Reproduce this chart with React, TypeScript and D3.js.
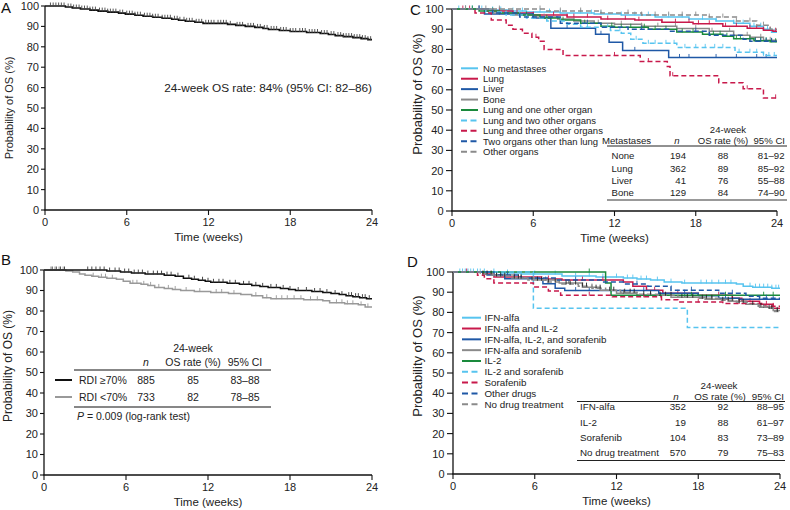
import React from 'react';
import * as d3 from 'd3';

type Pt = [number, number];

const FONT = "'Liberation Sans', Arial, Helvetica, sans-serif";

const timeTicks = [0, 6, 12, 18, 24];
const probTicks = [0, 10, 20, 30, 40, 50, 60, 70, 80, 90, 100];

// ---------- Panel A ----------
const overallSteps: Pt[] = [[0,100],[1.5,99.5],[2,99],[2.6,98.5],[3.3,98],[3.9,97.5],[4.6,97],[5.4,96.5],[5.9,96],[6.6,95.5],[7.2,95],[7.9,94.5],[8.6,94],[9.3,93.5],[9.8,93],[10.3,92.5],[11,92],[11.6,91.5],[13.4,91],[14,90.5],[14.7,90],[15.4,89.5],[16,89],[16.4,88.5],[17.2,88],[18,87.5],[19.2,87],[20.2,86.5],[20.8,86],[21.3,85.5],[21.9,85],[22.6,84.5],[23.2,84],[23.7,83.5]];
const overallCensor = [0.4,0.6,0.8,1.0,1.2,1.4,1.7,1.9,2.1,2.3,2.5,2.7,2.9,3.1,3.3,3.5,3.7,4.0,4.2,4.4,4.6,4.8,5.0,5.2,5.5,5.7,6.0,6.2,6.4,6.6,6.8,7.0,7.3,7.5,7.7,7.9,8.1,8.3,8.6,8.8,9.0,9.2,9.5,9.7,9.9,10.2,10.4,10.6,10.8,11.1,11.3,11.5,11.8,12.0,12.2,12.4,12.7,12.9,13.1,13.3,13.6,14.1,14.3,14.5,14.9,15.1,15.3,15.6,15.8,16.1,16.3,16.6,16.8,17.0,17.3,17.5,17.7,18.0,18.2,18.4,18.7,18.9,19.1,19.4,19.6,19.8,20.0,20.3,20.5,20.7,21.0,21.2,21.5,21.7,21.9,22.1,22.3,22.5,22.7,22.9,23.1,23.3,23.5,23.7,23.9];
const overallNote = '24-week OS rate: 84% (95% CI: 82–86)';

// ---------- Panel B ----------
const rdiHighSteps: Pt[] = [[0,100],[4.6,99.5],[5.6,99],[6.4,98.5],[7.4,98],[8.8,97.5],[9.6,97],[10.2,96],[10.8,95.5],[11.3,95],[11.8,94.5],[12.2,94],[13.4,93.5],[14.3,93],[15.2,92.5],[15.8,92],[16.4,91.5],[17.3,91],[17.9,90.5],[18.4,90],[19.6,89.5],[20.4,89],[21.0,88.5],[21.6,88],[22.1,87.5],[22.6,87],[23.1,86.5],[23.6,86]];
const rdiHighCensor = [0.6,0.9,1.2,1.5,3.2,3.5,3.8,4.1,4.4,4.8,5.2,5.5,5.9,6.2,6.6,6.9,7.2,7.6,8.0,8.3,8.6,9.0,9.3,9.8,10.6,11.0,11.6,12.0,12.4,12.8,13.1,13.6,14.0,14.6,15.0,15.5,16.0,16.6,17.0,17.5,18.0,18.6,19.2,19.8,20.2,20.7,21.3,21.8,22.3,22.5,22.8,23.0,23.3,23.5,23.8];
const rdiLowSteps: Pt[] = [[0,100],[1.6,99.5],[2.1,99],[2.6,98],[3.0,97.5],[3.5,97],[4.0,96.5],[4.6,96],[5.3,95.5],[5.8,94.5],[6.3,93.5],[7.1,93],[7.6,92.5],[8.1,91.5],[8.8,91],[9.4,90.5],[10.0,90],[11.0,89.5],[12.2,89],[13.5,88.5],[14.4,88],[15.2,87.5],[16.0,86.5],[16.6,86],[19.0,85.5],[20.4,85],[20.9,84],[22.0,83.5],[23.0,83],[23.5,82]];
const rdiLowCensor = [0.5,0.8,1.1,1.4,3.6,4.2,4.5,5.0,6.5,6.8,7.3,7.8,8.4,9.1,9.6,10.4,11.4,12.6,13.0,13.9,15.5,16.3,17.0,17.4,17.8,18.3,18.8,19.5,20.0,21.4,21.8,22.2,22.6,23.2,23.7];
const rdiLabels = ['RDI ≥70%', 'RDI <70%'];
const rdiN = [885, 733];
const rdiRate = [85, 82];
const rdiCI = ['83–88', '78–85'];
const rdiPValue = '0.009';

// ---------- Panel C ----------
const metNames = ['No metastases','Lung','Liver','Bone','Lung and one other organ','Lung and two other organs','Lung and three other organs','Two organs other than lung','Other organs'];
const metSteps: Pt[][] = [
  [[0,100],[2.8,99.5],[4.2,99],[5.5,98.5],[8,98],[10.5,97.5],[12.5,97],[15,96],[17.5,95],[19.5,94],[20.8,93],[22,91.5],[23,90],[23.6,88.5]],
  [[0,100],[2.5,99],[4.5,98],[6,97],[8.5,96],[11,95],[13.5,94.5],[15.5,93.5],[17.8,92.7],[20,91.5],[21.8,90.5],[23,89.5],[23.7,89]],
  [[0,100],[2.4,97.5],[6.0,95.5],[7.3,90.5],[10.6,87.5],[11.6,83.5],[12.6,79.5],[16.0,76]],
  [[0,100],[3,98],[4.5,97],[6,96],[7.8,95],[9,94],[10.5,93],[12,92.5],[14,91.5],[16.6,90.3],[19,89],[20.8,87],[22,86],[23,84.5]],
  [[0,100],[2,99],[3.5,98],[5,97],[6.5,95.5],[8,94.5],[9.5,93],[11,91.5],[12,91],[14.5,90],[16.6,88.6],[18.5,87.5],[20,86.5],[20.8,85.3],[22.3,84.3],[23.5,83.8]],
  [[0,100],[2.5,98.5],[4,97],[5.5,95.5],[7,94],[8.5,92.5],[9.5,91],[11.7,89.4],[12.5,88],[13.2,85],[14.1,83],[16.6,81],[20.9,78.6],[23,77]],
  [[0,100],[1.7,98],[2.9,94.5],[4.0,92],[4.5,90],[5.2,88],[5.9,86],[6.4,84],[6.8,80],[8.2,77],[13.9,74],[15.9,71.5],[16.1,67],[19.7,63.5],[21.5,60.5],[23,56]],
  [[0,100],[3,98],[5,96],[8,93],[11,91],[13,90],[16,89],[19,87],[21.5,85],[22,84]],
  [[0,100],[7,99],[11,98],[14,97],[19,96],[21,94],[22.5,92],[23.5,90]],
];
const metCensor: number[][] = [
  [0.5,1.0,1.5,2.2,3.0,3.6,4.5,5.2,6.5,7.2,8.0,9.5,10.3,11.0,12.5,13.5,14.5,16.0,17.0,18.5,19.5,20.8,21.5,22.3,22.8,23.3,23.8],
  [0.8,1.3,2.0,3.5,4.8,6.0,7.5,8.5,9.0,10.0,11.5,12.8,13.8,15.5,16.5,17.5,18.2,19.0,20.2,21.0,22.0,22.5,23.0,23.5,23.9],
  [3.5,8.5,11.0,13.5,16.8,17.5,19.5,21.0,22.5,23.2],
  [1.0,2.5,4.0,6.8,9.0,10.8,12.5,14.0,15.2,16.5,18.0,19.2,20.5,21.8,22.8,23.5],
  [1.5,3.0,5.5,7.0,8.2,9.8,11.8,12.5,13.2,14.2,15.0,15.8,17.0,17.8,18.5,19.3,19.8,20.3,21.0,21.3,22.0,22.4,22.8,23.2,23.6,23.9],
  [2.0,5.0,8.0,10.0,11.5,12.4,13.6,14.5,15.0,15.8,16.4,17.2,18.0,18.7,19.4,20.0,21.2,22.0,22.5,23.0,23.4,23.8],
  [6.2,12.0,14.5,16.3,21.8,23.9],
  [2.0,6.0,10.0,14.0,18.0,22.4,22.8,23.2,23.6],
  [1.0,3.5,6.5,8.0,9.5,11.0,13.0,14.0,15.0,16.0,17.0,18.0,19.0,20.0,21.0,22.0,23.0],
];
const metTableNames = ['None', 'Lung', 'Liver', 'Bone'];
const metN = [194, 362, 41, 129];
const metRate = [88, 89, 76, 84];
const metCI = ['81–92', '85–92', '55–88', '74–90'];

// ---------- Panel D ----------
const drugNames = ['IFN-alfa','IFN-alfa and IL-2','IFN-alfa, IL-2, and sorafenib','IFN-alfa and sorafenib','IL-2','IL-2 and sorafenib','Sorafenib','Other drugs','No drug treatment'];
const drugSteps: Pt[][] = [
  [[0,100],[3.5,99.5],[5,99],[8,98],[10.5,97.5],[12.5,97],[13.5,96.5],[14.5,96],[15.5,95],[16.8,94.5],[20.8,94],[21.3,93],[22,92.5],[23.4,92]],
  [[0,100],[2.2,99],[3.0,97.5],[6.5,96.5],[8,96],[12.5,95],[13.2,93],[14.2,91],[15.4,89.5],[18,88.5],[20.5,87],[21.2,85.5],[22.5,84],[23.5,82]],
  [[0,100],[2.5,98.5],[3.8,96.7],[6.6,94.2],[7.5,92],[8.2,90.8],[15.1,89.5],[18,88.2],[19.5,87],[21,86.5]],
  [[0,100],[2.8,98.5],[4.5,97],[6.2,96],[7.8,94.5],[9.5,92.5],[10.8,91],[12,89.5],[13.5,88.5],[16,87.5],[18.5,86.5],[20.2,85.5],[21.5,84],[22.5,82.5],[23.5,81]],
  [[0,100],[11.2,94.5],[11.6,88.5]],
  [[0,100],[5.9,82],[17.2,72.5]],
  [[0,100],[1.8,98.4],[2.3,96.7],[3,94.6],[5.9,92.6],[7,90.6],[7.9,88.5],[11.7,87.7],[15.3,86.3],[16.5,85.2],[19.8,84.4],[22.9,83]],
  [[0,100],[3,98.5],[5,97],[7.5,96],[11,95],[12.5,94],[14.3,93],[16,91],[19.5,89.5],[21.5,88],[22.5,87]],
  [[0,100],[2,99],[3,98],[4.2,97],[5.5,96],[6.8,95],[8,94],[9.2,93],[10.2,92],[11.2,91],[12.3,90],[13.6,89],[15,88.5],[16.5,87.5],[18,87],[19.5,86],[20.8,85],[21.6,84],[22.4,83],[23,82],[23.6,80.5]],
];
const drugCensor: number[][] = [
  [0.5,0.7,0.9,1.1,1.3,1.5,1.8,2.0,2.3,3.0,4.0,6.0,7.5,9.0,10.0,11.0,12.0,12.8,13.2,13.8,14.2,15.0,16.0,17.0,18.2,18.6,19.0,19.5,20.0,20.4,21.8,22.2,22.5,22.8,23.1,23.4,23.7,23.9],
  [1.0,4.5,7.0,9.5,11.0,14.8,16.5,19.5,21.8,23.0],
  [9.0,10.0,14.0,17.0,20.0,22.5,23.5],
  [3.2,5.0,6.8,8.5,10.2,12.5,14.5,17.0,19.0,21.0,22.8,23.8],
  [10.0,17.5,20.0,22.8,23.5],
  [],
  [10.0,14.0,18.0,21.0,23.5],
  [4.0,9.0,13.5,17.5,20.5,23.0],
  [2.2,2.5,2.8,3.2,3.5,3.8,4.5,4.8,5.0,5.8,6.2,6.5,7.0,7.5,8.3,8.6,9.0,9.5,9.8,10.5,10.8,11.5,11.8,12.6,13.0,13.3,14.0,14.5,15.2,15.6,16.0,16.8,17.2,17.6,18.3,18.6,19.0,19.8,20.2,20.5,21.0,21.3,22.0,22.6,23.2,23.4,23.8],
];
const drugTableNames = ['IFN-alfa', 'IL-2', 'Sorafenib', 'No drug treatment'];
const drugN = [352, 19, 104, 570];
const drugRate = [92, 88, 83, 79];
const drugCI = ['88–95', '61–97', '73–89', '75–83'];

// ---------- styles ----------
const LBLUE = '#57c4ef';
const CRIMSON = '#c8194b';
const DBLUE = '#1f58a6';
const GRAY = '#8a8a8a';
const GREEN = '#1a8a3c';
const groupColors = [LBLUE, CRIMSON, DBLUE, GRAY, GREEN, LBLUE, CRIMSON, DBLUE, GRAY];
const groupDashed = [false, false, false, false, false, true, true, true, true];

type Scale = d3.ScaleLinear<number, number>;

function stepAt(steps: Pt[], t: number) {
  let v = steps[0][1];
  for (const [st, p] of steps) {
    if (st <= t) v = p; else break;
  }
  return v;
}

function KMCurve({ steps, censor, x, y, color, dashed, width, tickColor }: {
  steps: Pt[]; censor: number[]; x: Scale; y: Scale; color: string; dashed?: boolean; width: number; tickColor?: string;
}) {
  const end = x.domain()[1];
  const pts: Pt[] = [...steps, [end, steps[steps.length - 1][1]]];
  const line = d3.line<Pt>().x(d => x(d[0])).y(d => y(d[1])).curve(d3.curveStepAfter);
  return (
    <g>
      <path d={line(pts) ?? ''} fill="none" stroke={color} strokeWidth={width} strokeDasharray={dashed ? '5,3' : undefined} />
      {censor.map((t, i) => {
        const p = stepAt(steps, t);
        const cx = x(t);
        return <line key={i} x1={cx} x2={cx} y1={y(p) - 3.5} y2={y(p) + 0.5} stroke={tickColor ?? color} strokeWidth={0.9} />;
      })}
    </g>
  );
}

function Axes({ x, y, tickLen, labelGap, ylabSize, ylabX, ylabCy, letter, letterX, letterY }: {
  x: Scale; y: Scale; tickLen: number; labelGap: number; ylabSize: number; ylabX: number; ylabCy: number; letter: string; letterX: number; letterY: number;
}) {
  const [x0, x1] = x.range();
  const [yB, yT] = y.range();
  return (
    <g fontFamily={FONT} fill="#222">
      <line x1={x0} x2={x0} y1={yB} y2={yT} stroke="#111" strokeWidth={1.3} />
      <line x1={x0 - 0.6} x2={x1} y1={yB} y2={yB} stroke="#111" strokeWidth={1.3} />
      {probTicks.map(v => (
        <g key={v}>
          <line x1={x0 - tickLen} x2={x0} y1={y(v)} y2={y(v)} stroke="#111" strokeWidth={1.1} />
          <text x={x0 - labelGap} y={y(v)} dy="0.36em" textAnchor="end" fontSize={11}>{v}</text>
        </g>
      ))}
      {timeTicks.map(t => (
        <g key={t}>
          <line x1={x(t)} x2={x(t)} y1={yB} y2={yB + 5} stroke="#111" strokeWidth={1.1} />
          <text x={x(t)} y={yB + 16} textAnchor="middle" fontSize={11}>{t}</text>
        </g>
      ))}
      <text x={(x0 + x1) / 2} y={yB + 31} textAnchor="middle" fontSize={11.5}>Time (weeks)</text>
      <text transform={`translate(${ylabX},${ylabCy}) rotate(-90)`} textAnchor="middle" fontSize={ylabSize}>Probability of OS (%)</text>
      <text x={letterX} y={letterY} fontSize={15} fill="#111">{letter}</text>
    </g>
  );
}

function PanelA() {
  const x = d3.scaleLinear().domain([0, 24]).range([45, 372]);
  const y = d3.scaleLinear().domain([0, 100]).range([210, 6]);
  return (
    <g>
      <Axes x={x} y={y} tickLen={4} labelGap={6} ylabSize={11} ylabX={12.5} ylabCy={108} letter="A" letterX={1} letterY={13} />
      <KMCurve steps={overallSteps} censor={overallCensor} x={x} y={y} color="#111" width={1.6} tickColor="#444" />
      <text x={x(24)} y={y(60)} dy="0.35em" textAnchor="end" fontFamily={FONT} fontSize={11.8} fill="#222">{overallNote}</text>
    </g>
  );
}

function PanelB() {
  const x = d3.scaleLinear().domain([0, 24]).range([44, 372]);
  const y = d3.scaleLinear().domain([0, 100]).range([475, 270]);
  const rowY = [380, 397];
  const colors = ['#111', '#999'];
  return (
    <g>
      <Axes x={x} y={y} tickLen={4} labelGap={6} ylabSize={12} ylabX={11.5} ylabCy={366} letter="B" letterX={1} letterY={265} />
      <KMCurve steps={rdiLowSteps} censor={rdiLowCensor} x={x} y={y} color="#999" width={1.5} />
      <KMCurve steps={rdiHighSteps} censor={rdiHighCensor} x={x} y={y} color="#111" width={1.5} tickColor="#333" />
      <g fontFamily={FONT} fontSize={10.5} fill="#222">
        <text x={193} y={348} dy="0.35em" textAnchor="middle">24-week</text>
        <text x={146} y={362} dy="0.35em" textAnchor="middle" fontStyle="italic">n</text>
        <text x={193} y={362} dy="0.35em" textAnchor="middle">OS rate (%)</text>
        <text x={245} y={362} dy="0.35em" textAnchor="middle">95% CI</text>
        <line x1={74} x2={271} y1={370} y2={370} stroke="#111" strokeWidth={1.2} />
        {rdiLabels.map((lab, i) => (
          <g key={lab}>
            <line x1={55} x2={72} y1={rowY[i]} y2={rowY[i]} stroke={colors[i]} strokeWidth={2} />
            <text x={79} y={rowY[i]} dy="0.35em">{lab}</text>
            <text x={146} y={rowY[i]} dy="0.35em" textAnchor="middle">{rdiN[i]}</text>
            <text x={193} y={rowY[i]} dy="0.35em" textAnchor="middle">{rdiRate[i]}</text>
            <text x={245} y={rowY[i]} dy="0.35em" textAnchor="middle">{rdiCI[i]}</text>
          </g>
        ))}
        <line x1={74} x2={271} y1={407} y2={407} stroke="#111" strokeWidth={1.2} />
        <text x={77} y={416} dy="0.35em"><tspan fontStyle="italic">P</tspan> = {rdiPValue} (log-rank test)</text>
      </g>
    </g>
  );
}

function Legend({ names, x1, x2, tx, y0, step, fontSize }: { names: string[]; x1: number; x2: number; tx: number; y0: number; step: number; fontSize: number }) {
  return (
    <g fontFamily={FONT} fontSize={fontSize} fill="#222">
      {names.map((n, i) => {
        const yy = y0 + i * step;
        return (
          <g key={n}>
            <line x1={x1} x2={x2} y1={yy} y2={yy} stroke={groupColors[i]} strokeWidth={2} strokeDasharray={groupDashed[i] ? '6,3.5' : undefined} />
            <text x={tx} y={yy} dy="0.35em">{n}</text>
          </g>
        );
      })}
    </g>
  );
}

function PanelC() {
  const x = d3.scaleLinear().domain([0, 24]).range([452, 777]);
  const y = d3.scaleLinear().domain([0, 100]).range([211, 9]);
  const rows = [155.7, 168.3, 180.7, 192.7];
  return (
    <g>
      <Axes x={x} y={y} tickLen={6} labelGap={8.5} ylabSize={13} ylabX={422} ylabCy={94} letter="C" letterX={410} letterY={15} />
      {metSteps.map((s, i) => (
        <KMCurve key={i} steps={s} censor={metCensor[i]} x={x} y={y} color={groupColors[i]} dashed={groupDashed[i]} width={1.5} />
      ))}
      <Legend names={metNames} x1={461} x2={478} tx={483} y0={68.3} step={10.42} fontSize={9.5} />
      <g fontFamily={FONT} fontSize={9.6} fill="#222">
        <text x={728} y={130} dy="0.35em" textAnchor="middle">24-week</text>
        <text x={602} y={141} dy="0.35em">Metastases</text>
        <text x={677} y={141} dy="0.35em" textAnchor="middle" fontStyle="italic">n</text>
        <text x={723} y={141} dy="0.35em" textAnchor="middle">OS rate (%)</text>
        <text x={785} y={141} dy="0.35em" textAnchor="end">95% CI</text>
        <line x1={607} x2={787} y1={146} y2={146} stroke="#222" strokeWidth={1} />
        {metTableNames.map((n, i) => (
          <g key={n}>
            <text x={611.5} y={rows[i]} dy="0.35em">{n}</text>
            <text x={686} y={rows[i]} dy="0.35em" textAnchor="end">{metN[i]}</text>
            <text x={723} y={rows[i]} dy="0.35em" textAnchor="middle">{metRate[i]}</text>
            <text x={784.5} y={rows[i]} dy="0.35em" textAnchor="end">{metCI[i]}</text>
          </g>
        ))}
        <line x1={607} x2={787} y1={200} y2={200} stroke="#777" strokeWidth={1.6} />
      </g>
    </g>
  );
}

function PanelD() {
  const x = d3.scaleLinear().domain([0, 24]).range([453, 780]);
  const y = d3.scaleLinear().domain([0, 100]).range([474, 272]);
  const rows = [407, 422.5, 437.5, 452.5];
  const tickColors = [undefined, undefined, undefined, '#555', undefined, undefined, undefined, undefined, '#222'];
  return (
    <g>
      <Axes x={x} y={y} tickLen={6} labelGap={8.5} ylabSize={13} ylabX={422} ylabCy={356} letter="D" letterX={407} letterY={267} />
      {drugSteps.map((s, i) => (
        <KMCurve key={i} steps={s} censor={drugCensor[i]} x={x} y={y} color={groupColors[i]} dashed={groupDashed[i]} width={1.5} tickColor={tickColors[i]} />
      ))}
      <Legend names={drugNames} x1={462} x2={481} tx={484.5} y0={317.7} step={10.82} fontSize={9.8} />
      <g fontFamily={FONT} fontSize={9.8} fill="#222">
        <text x={719} y={386} dy="0.35em" textAnchor="middle">24-week</text>
        <text x={676} y={396.5} dy="0.35em" textAnchor="middle" fontStyle="italic">n</text>
        <text x={720} y={396.5} dy="0.35em" textAnchor="middle">OS rate (%)</text>
        <text x={784} y={396.5} dy="0.35em" textAnchor="end">95% CI</text>
        <line x1={577} x2={785} y1={401.5} y2={401.5} stroke="#222" strokeWidth={1} />
        {drugTableNames.map((n, i) => (
          <g key={n}>
            <text x={580} y={rows[i]} dy="0.35em">{n}</text>
            <text x={686} y={rows[i]} dy="0.35em" textAnchor="end">{drugN[i]}</text>
            <text x={723} y={rows[i]} dy="0.35em" textAnchor="middle">{drugRate[i]}</text>
            <text x={784} y={rows[i]} dy="0.35em" textAnchor="end">{drugCI[i]}</text>
          </g>
        ))}
        <line x1={577} x2={785} y1={460.5} y2={460.5} stroke="#222" strokeWidth={1} />
      </g>
    </g>
  );
}

export default function App() {
  return (
    <svg width={790} height={510} viewBox="0 0 790 510" style={{ position: 'absolute', left: 0, top: 0, display: 'block', background: '#fff' }}>
      <rect x={0} y={0} width={790} height={510} fill="#fff" />
      <PanelA />
      <PanelB />
      <PanelC />
      <PanelD />
    </svg>
  );
}
